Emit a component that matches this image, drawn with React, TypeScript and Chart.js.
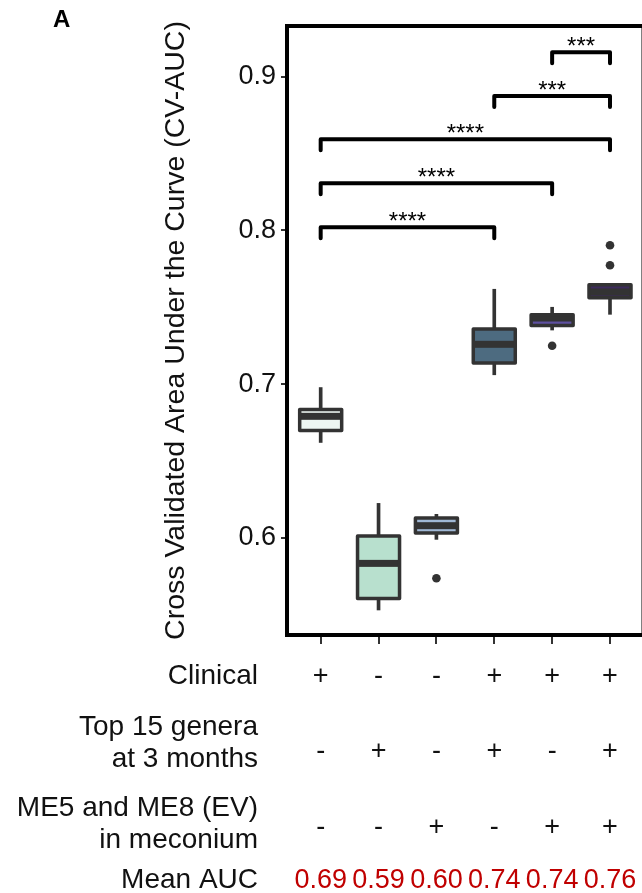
import React, { useEffect, useRef } from "react";
import { Chart, registerables } from "chart.js";

Chart.register(...registerables);

// ---- data ----
const models = [1, 2, 3, 4, 5, 6];
const whiskerLow = [0.6621, 0.5532, 0.5991, 0.7061, 0.7352, 0.7454];
const q1 = [0.6699, 0.5607, 0.6032, 0.7138, 0.7381, 0.7561];
const median = [0.6791, 0.5835, 0.608, 0.7259, 0.743, 0.7599];
const q3 = [0.6835, 0.6013, 0.613, 0.7359, 0.7451, 0.7646];
const whiskerHigh = [0.6978, 0.6225, 0.6154, 0.7617, 0.75, 0.765];
const outlierModel = [3, 5, 6, 6];
const outlierValue = [0.5738, 0.725, 0.7903, 0.7773];
const yTicks = [0.6, 0.7, 0.8, 0.9];

const clinical = ["+", "-", "-", "+", "+", "+"];
const genera = ["-", "+", "-", "+", "-", "+"];
const meconium = ["-", "-", "+", "-", "+", "+"];
const meanAuc = ["0.69", "0.59", "0.60", "0.74", "0.74", "0.76"];

const bracketFrom = [5, 4, 1, 1, 1];
const bracketTo = [6, 6, 6, 5, 4];
const bracketY = [0.9157, 0.8873, 0.8592, 0.8306, 0.802];
const bracketLabel = ["***", "***", "****", "****", "****"];

const yTitle = "Cross Validated Area Under the Curve (CV-AUC)";
const rowLabels = [["Clinical"], ["Top 15 genera", "at 3 months"], ["ME5 and ME8 (EV)", "in meconium"], ["Mean AUC"]];

// ---- styles ----
const boxColors = ["#edf6f2", "#b8e0ce", "#a0b8d5", "#4d6b80", "#5e50a0", "#3d2b5c"];
const dark = "#333333";
const FONT = "'Liberation Sans', Arial, Helvetica, sans-serif";
const TEXT = "#111111";
const RED = "#c00000";

const boxPlugin = {
  id: "boxOutlineAndMedian",
  afterDatasetsDraw(chart: any) {
    const ctx = chart.ctx;
    const meta = chart.getDatasetMeta(0);
    const y = chart.scales.y;
    ctx.save();
    meta.data.forEach((bar: any, i: number) => {
      const w = bar.width;
      const x0 = bar.x - w / 2;
      const yTop = y.getPixelForValue(q3[i]);
      const yBot = y.getPixelForValue(q1[i]);
      const pm = y.getPixelForValue(median[i]);
      ctx.fillStyle = dark;
      ctx.fillRect(x0, pm - 3.5, w, 7);
      ctx.strokeStyle = dark;
      ctx.lineWidth = 3.5;
      ctx.lineJoin = "round";
      ctx.beginPath();
      ctx.rect(x0, yTop, w, yBot - yTop);
      ctx.stroke();
    });
    ctx.restore();
  },
};

const framePlugin = {
  id: "frameAndAnnotations",
  afterDraw(chart: any) {
    const ctx = chart.ctx;
    const { left, top, right, bottom } = chart.chartArea;
    const xs = chart.scales.x;
    const ys = chart.scales.y;
    ctx.save();
    // frame
    ctx.strokeStyle = "#000";
    ctx.lineWidth = 4;
    ctx.lineJoin = "miter";
    ctx.strokeRect(left, top, right - left + 1.5, bottom - top);

    // significance brackets
    ctx.lineWidth = 4;
    ctx.lineCap = "round";
    ctx.lineJoin = "round";
    ctx.fillStyle = "#000";
    ctx.font = `24px ${FONT}`;
    ctx.textAlign = "center";
    ctx.textBaseline = "alphabetic";
    bracketFrom.forEach((f, i) => {
      const x1 = xs.getPixelForValue(f);
      const x2 = xs.getPixelForValue(bracketTo[i]);
      const py = ys.getPixelForValue(bracketY[i]);
      ctx.beginPath();
      ctx.moveTo(x1, py + 11);
      ctx.lineTo(x1, py);
      ctx.lineTo(x2, py);
      ctx.lineTo(x2, py + 11);
      ctx.stroke();
      ctx.fillText(bracketLabel[i], (x1 + x2) / 2, py + 2);
    });

    // panel letter
    ctx.textAlign = "left";
    ctx.font = `bold 24px ${FONT}`;
    ctx.fillStyle = "#000";
    ctx.fillText("A", 53, 27);

    // table below the axis
    ctx.font = `28px ${FONT}`;
    ctx.fillStyle = TEXT;
    ctx.textAlign = "right";
    const labelBaselines = [[684], [735, 767], [816, 848], [888]];
    rowLabels.forEach((lines, r) => {
      lines.forEach((t, k) => ctx.fillText(t, 258, labelBaselines[r][k]));
    });
    ctx.font = `27px ${FONT}`;
    ctx.textAlign = "center";
    const signRows = [clinical, genera, meconium];
    const signBaselines = [684, 758.5, 834.5];
    signRows.forEach((row, r) => {
      row.forEach((s, i) => ctx.fillText(s, xs.getPixelForValue(models[i]), signBaselines[r]));
    });
    ctx.fillStyle = RED;
    meanAuc.forEach((v, i) => ctx.fillText(v, xs.getPixelForValue(models[i]), 888));
    ctx.restore();
  },
};

export default function App() {
  const ref = useRef<HTMLCanvasElement | null>(null);

  useEffect(() => {
    if (!ref.current) return;
    Chart.defaults.font.family = FONT;
    const chart = new Chart(ref.current, {
      type: "bar",
      data: {
        datasets: [
          {
            label: "box",
            data: models.map((m, i) => ({ x: m, y: [q1[i], q3[i]] })) as any,
            backgroundColor: boxColors,
            borderWidth: 0,
            barThickness: 42,
            grouped: false,
          } as any,
          {
            label: "whisker",
            data: models.map((m, i) => ({ x: m, y: [whiskerLow[i], whiskerHigh[i]] })) as any,
            backgroundColor: dark,
            borderWidth: 0,
            barThickness: 3,
            grouped: false,
          } as any,
          {
            type: "scatter",
            label: "outliers",
            data: outlierModel.map((m, i) => ({ x: m, y: outlierValue[i] })),
            backgroundColor: dark,
            borderWidth: 0,
            pointRadius: 4.3,
          } as any,
        ],
      },
      options: {
        animation: false,
        responsive: false,
        devicePixelRatio: 1,
        layout: { autoPadding: false, padding: { top: 26, right: 0, bottom: 0, left: 0 } },
        plugins: { legend: { display: false }, tooltip: { enabled: false } },
        scales: {
          x: {
            type: "linear",
            offset: false,
            min: 0.418,
            max: 6.553,
            afterBuildTicks: (s: any) => {
              s.ticks = models.map((v) => ({ value: v }));
            },
            afterFit: (s: any) => {
              s.height = 258;
            },
            ticks: { display: false },
            grid: { offset: false, drawOnChartArea: false, drawTicks: true, tickLength: 9, color: dark, lineWidth: 2 },
            border: { display: false },
          },
          y: {
            min: 0.53694,
            max: 0.93283,
            afterBuildTicks: (s: any) => {
              s.ticks = yTicks.map((v) => ({ value: v }));
            },
            afterFit: (s: any) => {
              s.width = 287;
            },
            ticks: {
              color: TEXT,
              font: { size: 27, family: FONT },
              padding: 5,
              callback: (v: any) => Number(v).toFixed(1),
            },
            grid: { drawOnChartArea: false, drawTicks: true, tickLength: 6, color: dark, lineWidth: 2 },
            border: { display: false },
            title: {
              display: true,
              text: yTitle,
              color: TEXT,
              font: { size: 28.5, family: FONT },
              padding: { top: 159, bottom: 0 },
            },
          },
        },
      } as any,
      plugins: [boxPlugin, framePlugin],
    });
    return () => chart.destroy();
  }, []);

  return (
    <div style={{ position: "fixed", left: 0, top: 0, width: 642, height: 893, background: "#fff" }}>
      <canvas ref={ref} width={642} height={893} style={{ display: "block", width: 642, height: 893 }} />
    </div>
  );
}
